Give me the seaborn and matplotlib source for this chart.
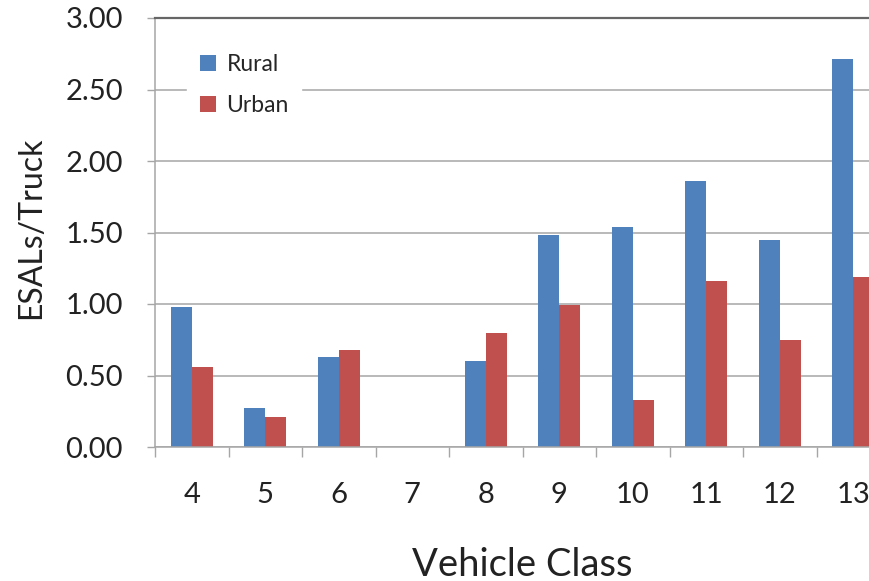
import numpy as np
import matplotlib.pyplot as plt
import seaborn as sns
import pandas as pd

vehicle_class = ["4", "5", "6", "7", "8", "9", "10", "11", "12", "13"]
rural = [0.98, 0.27, 0.63, 0.0, 0.60, 1.48, 1.54, 1.86, 1.45, 2.71]
urban = [0.56, 0.21, 0.68, 0.0, 0.80, 0.99, 0.33, 1.16, 0.75, 1.19]

df = pd.DataFrame({
    "cls": vehicle_class * 2,
    "val": rural + urban,
    "area": ["Rural"] * len(rural) + ["Urban"] * len(urban),
})

sns.set_style("white")
plt.rcParams["font.family"] = ["Lato", "DejaVu Sans"]

grid_c = "#A6A6A6"
fig = plt.figure(figsize=(8.69, 5.81), dpi=100)
# right edge intentionally runs past the figure, as in the reference
ax = fig.add_axes([155 / 869, 134 / 581, 735 / 869, 429 / 581])

sns.barplot(data=df, x="cls", y="val", hue="area", order=vehicle_class,
            palette=["#4F81BD", "#C0504D"], saturation=1, width=0.57,
            linewidth=0, ax=ax)

ax.set_ylim(0, 3.0)
ax.set_xlim(-0.5, 9.5)
ax.set_yticks(np.arange(0, 3.01, 0.5))
ax.set_yticklabels([f"{v:.2f}" for v in np.arange(0, 3.01, 0.5)])
ax.yaxis.grid(True, color=grid_c, linewidth=1.1)
ax.set_axisbelow(True)

for s in ["left", "bottom"]:
    ax.spines[s].set_color(grid_c)
    ax.spines[s].set_linewidth(1.1)
ax.spines["right"].set_visible(False)
ax.spines["top"].set_color("#666666")
ax.spines["top"].set_linewidth(1.6)

ax.tick_params(axis="y", which="major", length=6, width=1.0, color=grid_c,
               direction="out", left=True, pad=17, labelsize=21, labelcolor="#222222")
ax.tick_params(axis="x", which="major", length=0, pad=25, labelsize=21, labelcolor="#222222")
ax.set_xticks(np.arange(-0.5, 10, 1.0), minor=True)
ax.tick_params(axis="x", which="minor", length=7, width=1.0, color=grid_c,
               direction="out", bottom=True)

ax.set_xlabel("Vehicle Class", fontsize=27.5, color="#222222")
ax.set_ylabel("ESALs/Truck", fontsize=23, color="#222222")
ax.xaxis.set_label_coords(0.5, -0.232)
ax.yaxis.set_label_coords(-0.148, 0.51)

ax.legend(loc="upper left", bbox_to_anchor=(176 / 869, 1 - 30 / 581),
          bbox_transform=fig.transFigure, frameon=True, facecolor="white",
          edgecolor="white", framealpha=1, fontsize=16.5, handlelength=0.7,
          handleheight=0.7, handletextpad=0.45, labelspacing=0.85,
          borderpad=0.55, fancybox=False, title=None)

fig.savefig("out.png", dpi=100)
